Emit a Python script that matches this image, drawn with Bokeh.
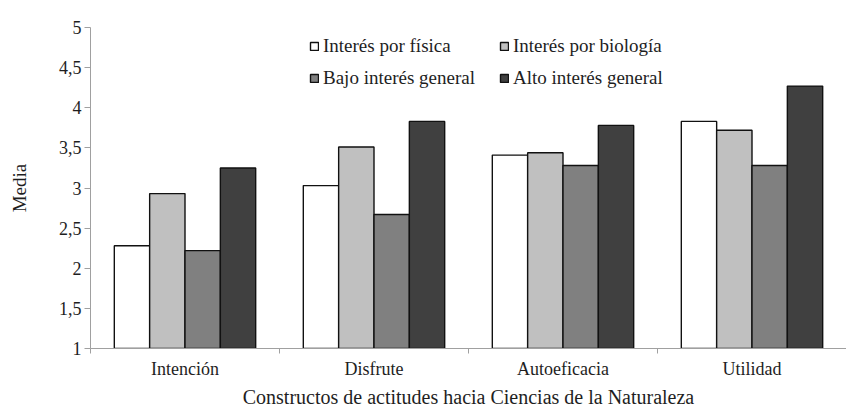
from bokeh.plotting import figure
from bokeh.models import ColumnDataSource, FixedTicker, CustomJSTickFormatter, Legend, LegendItem, Range1d
from bokeh.embed import file_html
from bokeh.resources import INLINE

categories = ["Intención", "Disfrute", "Autoeficacia", "Utilidad"]
series_names = ["Interés por física", "Interés por biología", "Bajo interés general", "Alto interés general"]
fisica = [2.28, 3.03, 3.41, 3.83]
biologia = [2.93, 3.51, 3.44, 3.72]
bajo = [2.22, 2.67, 3.28, 3.28]
alto = [3.25, 3.83, 3.78, 4.27]
colors = ["#ffffff", "#c0c0c0", "#808080", "#404040"]
y_ticks = [1, 1.5, 2, 2.5, 3, 3.5, 4, 4.5, 5]

FONT = "'Liberation Serif', serif"
TXT = "#1e1e1e"
series = [fisica, biologia, bajo, alto]
bar_w = 0.187
offsets = [-1.5 * bar_w, -0.5 * bar_w, 0.5 * bar_w, 1.5 * bar_w]

p = figure(width=846, height=410, output_backend="svg", toolbar_location=None,
           x_range=Range1d(0, 4), y_range=Range1d(1, 5),
           min_border_left=90, min_border_right=0, min_border_top=27, min_border_bottom=58)
p.outline_line_color = None
p.grid.visible = False
p.background_fill_color = "white"
p.border_fill_color = "white"

centers = [i + 0.5 for i in range(len(categories))]
renderers = []
for vals, off, col in zip(series, offsets, colors):
    src = ColumnDataSource(dict(x=[c + off for c in centers], top=vals))
    r = p.vbar(x="x", top="top", bottom=1, width=bar_w, source=src,
               fill_color=col, line_color="#111111", line_width=1.4)
    renderers.append(r)

# x axis
xa = p.xaxis[0]
xa.ticker = FixedTicker(ticks=centers, minor_ticks=list(range(len(categories) + 1)))
xa.major_label_overrides = {c: lab for c, lab in zip(centers, categories)}
xa.major_tick_out = 0
xa.major_tick_in = 0
xa.minor_tick_out = 5
xa.minor_tick_in = 0
xa.minor_tick_line_color = "#a0a0a0"
xa.axis_line_color = "#a0a0a0"
xa.major_label_text_font = FONT
xa.major_label_text_font_size = "18px"
xa.major_label_text_color = TXT
xa.major_label_standoff = 5
xa.axis_label = "Constructos de actitudes hacia Ciencias de la Naturaleza"
xa.axis_label_text_font = FONT
xa.axis_label_text_font_size = "20px"
xa.axis_label_text_font_style = "normal"
xa.axis_label_text_color = TXT
xa.axis_label_standoff = 4

# y axis
ya = p.yaxis[0]
ya.ticker = FixedTicker(ticks=y_ticks, minor_ticks=[])
ya.formatter = CustomJSTickFormatter(code="return tick.toString().replace('.', ',');")
ya.major_tick_out = 6
ya.major_tick_in = 0
ya.major_tick_line_color = "#a0a0a0"
ya.axis_line_color = "#a0a0a0"
ya.major_label_text_font = FONT
ya.major_label_text_font_size = "18px"
ya.major_label_text_color = TXT
ya.major_label_standoff = 3
ya.axis_label = "Media"
ya.axis_label_text_font = FONT
ya.axis_label_text_font_size = "19px"
ya.axis_label_text_font_style = "normal"
ya.axis_label_text_color = TXT
ya.axis_label_standoff = 26


def make_legend(idx, loc):
    lg = Legend(items=[LegendItem(label=series_names[i], renderers=[renderers[i]]) for i in idx],
                location=loc)
    lg.label_text_font = FONT
    lg.label_text_font_size = "19px"
    lg.label_text_color = TXT
    lg.glyph_width = 10
    lg.glyph_height = 10
    lg.label_standoff = 4
    lg.spacing = 10
    lg.padding = 0
    lg.margin = 0
    lg.border_line_color = None
    lg.background_fill_alpha = 0
    p.add_layout(lg, "center")


make_legend([0, 2], (219, 259))
make_legend([1, 3], (409, 259))

open("out.html", "w").write(file_html(p, INLINE))
